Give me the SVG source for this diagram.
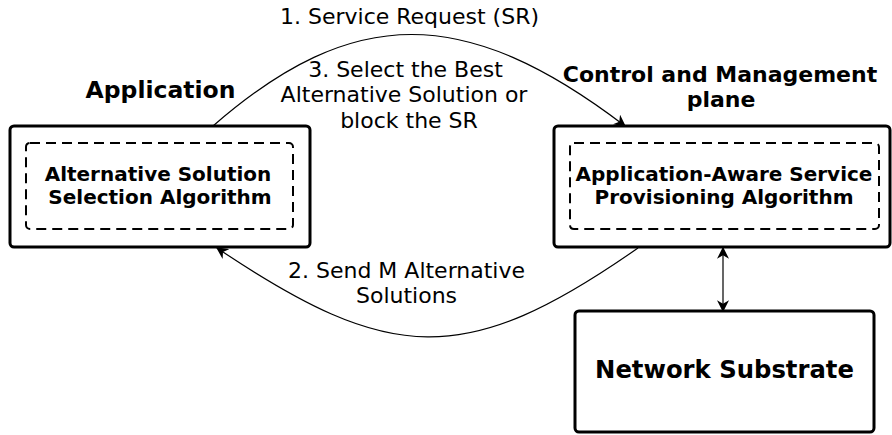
<svg xmlns="http://www.w3.org/2000/svg" width="892" height="435" viewBox="0 0 892 435">
<style>
text{font-family:"DejaVu Sans","Liberation Sans",sans-serif;fill:#000}
.b{font-weight:bold}
.lbl{font-size:22px;text-anchor:middle}
.box{fill:#fff;stroke:#000;stroke-width:3}
.inner{fill:none;stroke:#000;stroke-width:2;stroke-dasharray:10,6}
.conn{fill:none;stroke:#000;stroke-width:1.2}
</style>
<defs>
<marker id="ah" viewBox="0 0 10 10" refX="9" refY="5" markerWidth="12" markerHeight="12" markerUnits="userSpaceOnUse" orient="auto-start-reverse">
<path d="M0,0 L10,5 L0,10 L3,5 Z" fill="#000"/>
</marker>
</defs>
<rect width="892" height="435" fill="#fff"/>
<g id="application">
<text class="b" x="160.5" y="98" font-size="23.5" text-anchor="middle">Application</text>
<rect class="box" x="10" y="126" width="300" height="121" rx="4"/>
<rect class="inner" x="26" y="143" width="267" height="86" rx="4"/>
<text class="b" x="158" y="181" font-size="20" text-anchor="middle">Alternative Solution</text>
<text class="b" x="160" y="204" font-size="20" text-anchor="middle">Selection Algorithm</text>
</g>
<g id="control">
<text class="b" x="720" y="82" font-size="22" text-anchor="middle">Control and Management</text>
<text class="b" x="721" y="107" font-size="22" text-anchor="middle">plane</text>
<rect class="box" x="554" y="126" width="336" height="121" rx="4"/>
<rect class="inner" x="570" y="143" width="309" height="86" rx="4"/>
<text class="b" x="724" y="181" font-size="20" text-anchor="middle">Application-Aware Service</text>
<text class="b" x="724" y="204" font-size="20" text-anchor="middle">Provisioning Algorithm</text>
</g>
<g id="substrate">
<rect class="box" x="575" y="311" width="299" height="121" rx="4"/>
<text class="b" x="724.5" y="378" font-size="24.3" text-anchor="middle">Network Substrate</text>
</g>
<g id="connectors">
<path class="conn" d="M213,126 C353,4 465,4 625,126" marker-end="url(#ah)"/>
<path class="conn" d="M638,248 C465,369 390,364 217,248" marker-end="url(#ah)"/>
<path class="conn" d="M723,248 L723,311" marker-start="url(#ah)" marker-end="url(#ah)"/>
</g>
<g id="labels">
<text class="lbl" x="409.5" y="24">1. Service Request (SR)</text>
<text class="lbl" x="405.5" y="77">3. Select the Best</text>
<text class="lbl" x="404" y="102">Alternative Solution or</text>
<text class="lbl" x="409" y="128">block the SR</text>
<text class="lbl" x="406.5" y="278">2. Send M Alternative</text>
<text class="lbl" x="406.5" y="303">Solutions</text>
</g>
</svg>
